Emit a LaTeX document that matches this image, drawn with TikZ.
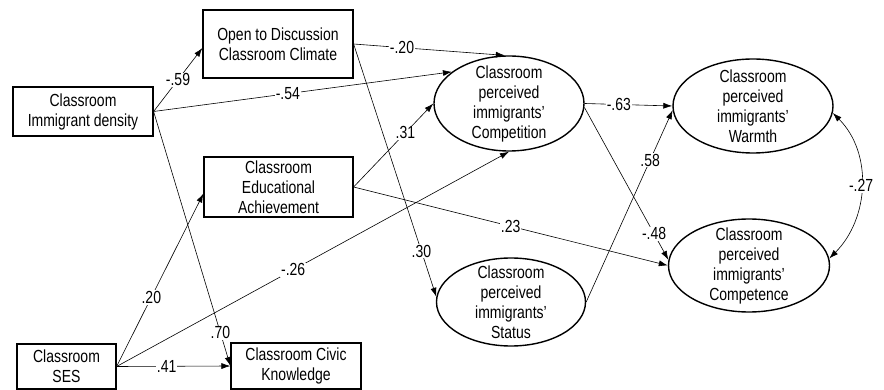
\documentclass[tikz,border=0pt]{standalone}
\usepackage{fontspec}
\setmainfont{Liberation Sans}[FakeStretch=0.8]
\usetikzlibrary{arrows.meta, shapes.geometric}

\begin{document}
\begin{tikzpicture}[x=1pt, y=-1pt,
            every node/.style={font=\fontsize{17.5}{20}\selectfont},
            obs/.style={draw, line width=1.2pt, rectangle, align=center, inner sep=0pt},
            lat/.style={draw, line width=1.4pt, ellipse, inner sep=0pt},
            link/.style={-{Latex[length=9pt,width=6pt]}, line width=0.6pt},
            link2/.style={{Latex[length=9pt,width=6pt]}-{Latex[length=9pt,width=6pt]}, line width=0.6pt},
            coef/.style={fill=white, inner sep=1pt}]
            \useasboundingbox (0,0) rectangle (884,390);
            \node[obs, minimum width=140pt, minimum height=49pt] (dens) at (83,111.5) {Classroom\\Immigrant density};
            \node[obs, minimum width=150pt, minimum height=68pt] (clim) at (278,44) {Open to Discussion\\Classroom Climate};
            \node[obs, minimum width=149pt, minimum height=60pt] (edu) at (278.5,187) {Classroom\\Educational\\Achievement};
            \node[obs, minimum width=99pt, minimum height=45pt] (ses) at (66.5,366.5) {Classroom\\SES};
            \node[obs, minimum width=130pt, minimum height=46pt] (civic) at (296,366) {Classroom Civic\\Knowledge};
            \node[lat, minimum width=150pt, minimum height=95pt, label={[align=center]center:{Classroom\\perceived\\immigrants'\\Competition}}] (comp) at (509,103.5) {};
            \node[lat, minimum width=160pt, minimum height=94pt, label={[align=center]center:{Classroom\\perceived\\immigrants'\\Warmth}}] (warm) at (753,106) {};
            \node[lat, minimum width=149pt, minimum height=88pt, label={[align=center]center:{Classroom\\perceived\\immigrants'\\Status}}] (stat) at (511,302) {};
            \node[lat, minimum width=161pt, minimum height=93pt, label={[align=center]center:{Classroom\\perceived\\immigrants'\\Competence}}] (compe) at (749,265.5) {};
            \draw[link] (dens.east) -- node[coef, pos=0.5] {-.59} (clim.183);
            \draw[link] (dens.east) -- node[coef, pos=0.45] {-.54} (comp.151);
            \draw[link] (clim.east) -- node[coef, pos=0.32] {-.20} (comp.95);
            \draw[link] (clim.east) -- node[coef, pos=0.82] {.30} (stat.176);
            \draw[link] (dens.east) -- node[coef, pos=0.87] {.70} (civic.west);
            \draw[link] (edu.east) -- node[coef, pos=0.65] {.31} (comp.west);
            \draw[link] (edu.east) -- node[coef, pos=0.5] {.23} (compe.west);
            \draw[link] (ses.east) -- node[coef, pos=0.4] {.20} (edu.185);
            \draw[link] (ses.east) -- node[coef, pos=0.45] {-.26} (comp.south);
            \draw[link] (ses.east) -- node[coef, pos=0.44] {.41} (civic.west);
            \draw[link] (comp.east) -- node[coef, pos=0.39] {-.63} (warm.west);
            \draw[link] (comp.-3) -- node[coef, pos=0.83] {-.48} (compe.176);
            \draw[link] (stat.east) -- node[coef, pos=0.74] {.58} (warm.183);
            \draw[link2] (warm.-5) .. controls +(40,40) and +(40,-40) .. node[coef, pos=0.5] {-.27} (compe.5);
\end{tikzpicture}
\end{document}
